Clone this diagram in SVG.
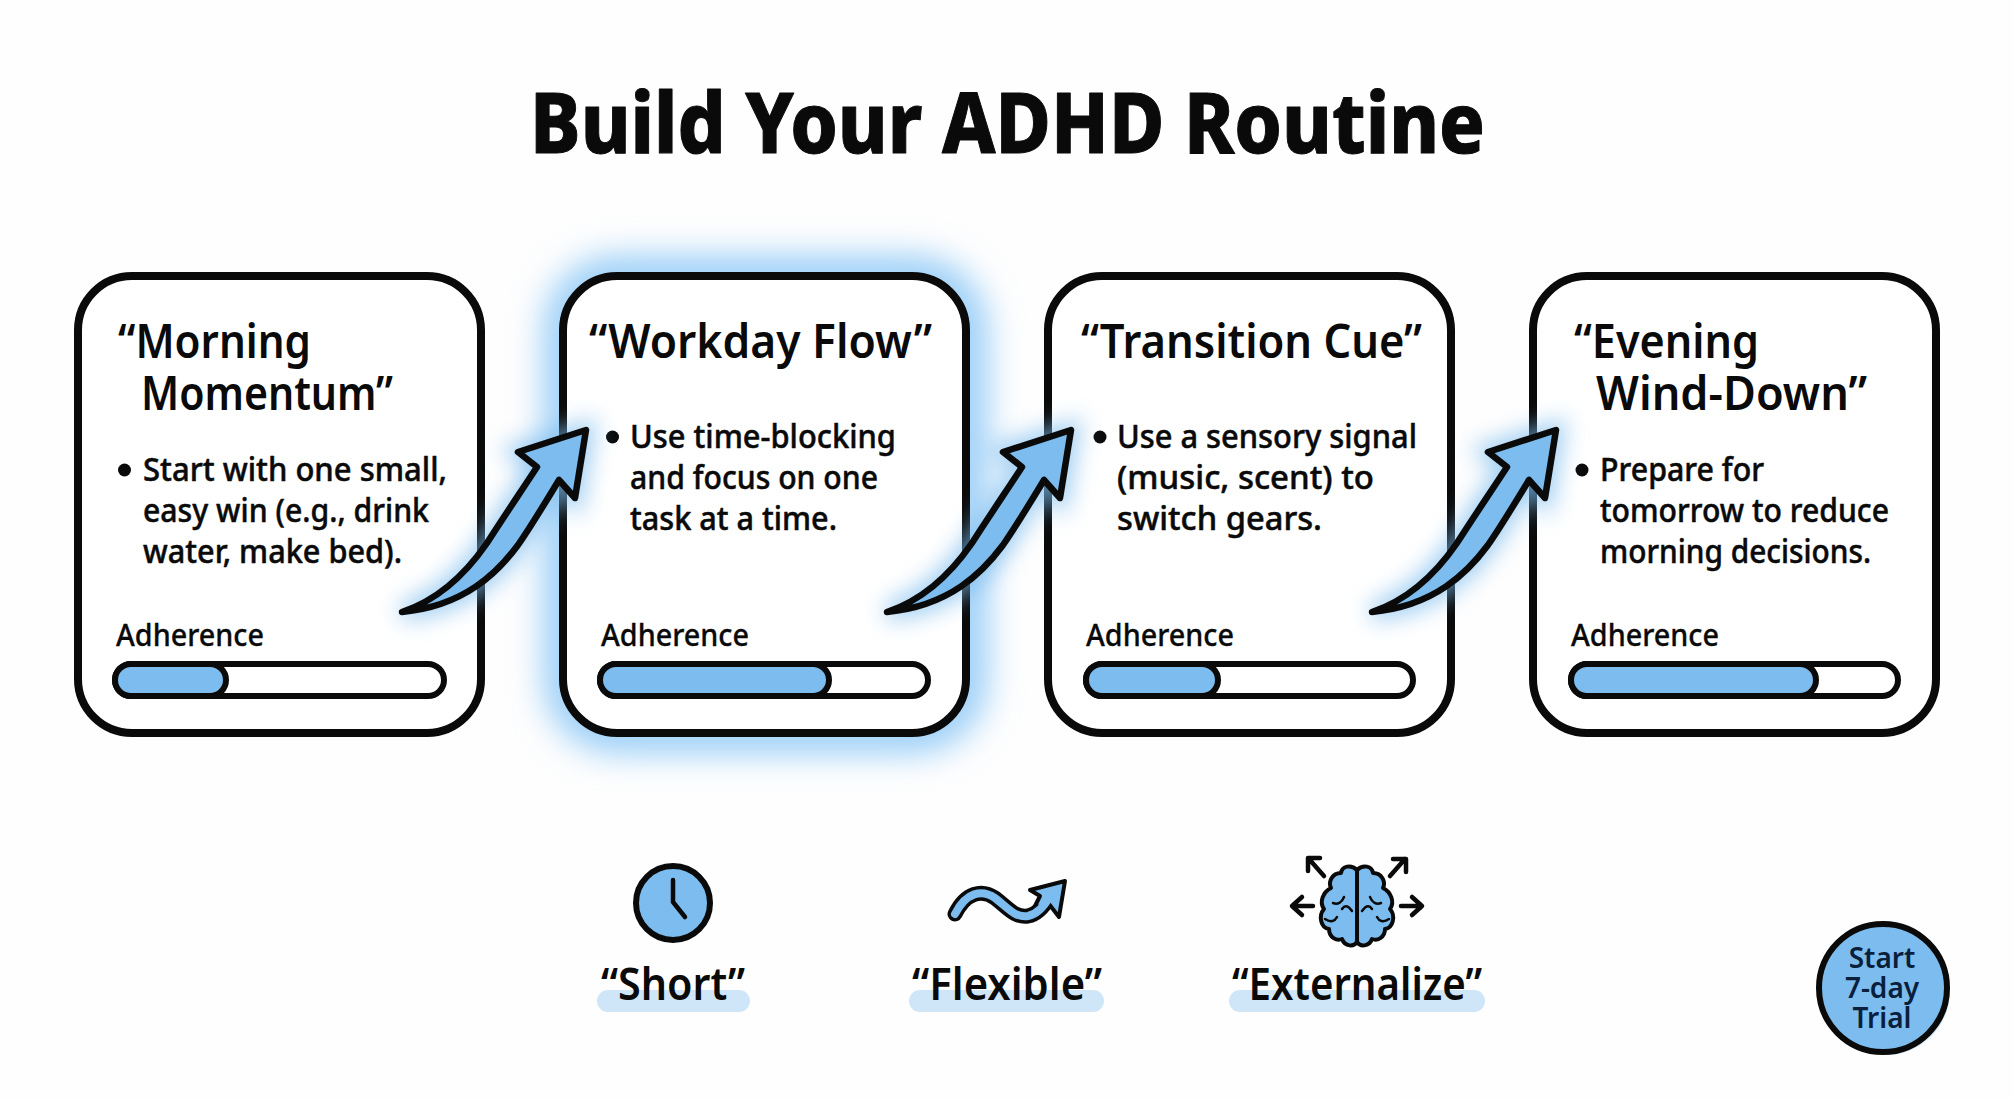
<svg xmlns="http://www.w3.org/2000/svg" xmlns:xlink="http://www.w3.org/1999/xlink" width="2013" height="1098" viewBox="0 0 2013 1098">
<style>
text{font-family:"Noto Sans","Liberation Sans",sans-serif;fill:#0a0a0a;stroke-linejoin:round}
.title{font-size:84px;font-weight:800;stroke:#0a0a0a;stroke-width:1}
.h{font-size:46px;font-weight:600}
.b{font-size:33px;font-weight:500;stroke:#0a0a0a;stroke-width:.5}
.a{font-size:31px;font-weight:500;stroke:#0a0a0a;stroke-width:.3}
.l{font-size:45px;font-weight:600}
.card{fill:#fff;stroke:#0a0a0a;stroke-width:8}
.bar{fill:#fff;stroke:#0a0a0a;stroke-width:6}
.fill{fill:#7cbcee;stroke:#0a0a0a;stroke-width:6}
.arrow{fill:#7cbcee;stroke:#0a0a0a;stroke-width:6.500;stroke-linejoin:round}
.aglow{fill:#7cbcee;stroke:#7cbcee;stroke-width:18;filter:url(#blur);opacity:.7}
.hl{fill:#cfe6f9}
.ic{fill:#7cbcee;stroke:#0a0a0a;stroke-width:4;stroke-linejoin:round;stroke-linecap:round}
.ln{fill:none;stroke:#0a0a0a;stroke-width:4.500;stroke-linecap:round;stroke-linejoin:round}
.fold{fill:none;stroke:#0a0a0a;stroke-width:2.500;stroke-linecap:round}
.btn{font-size:28px;font-weight:600;fill:#0a1f3c;text-anchor:middle}
</style>
<defs>
<filter id="blur" x="-30%" y="-30%" width="160%" height="160%"><feGaussianBlur stdDeviation="11"/></filter>
<filter id="halo" x="-20%" y="-20%" width="140%" height="140%"><feGaussianBlur stdDeviation="18"/></filter>
<path id="arr" d="M402 612C438 600 465 575 487 543C505 515 522 490 537 467L518 452L586 430L575 498L559 480C545 503 530 528 518 545C498 572 465 606 402 612Z"/>
<g id="half">
<path class="ic" d="M0-36C-6-42-15-40-16-33C-25-33-29-24-26-18C-34-14-38-4-33 3C-39 10-36 22-28 23C-28 32-20 35-15 33C-12 41-3 41 0 36Z"/>
<path class="fold" d="M-24-3C-19-1-15-4-13-9M-5 5C-10-2-13 0-15 3M-32 13C-26 17-22 15-20 11"/>
</g>
</defs>
<rect width="2013" height="1098" fill="#fefefe"/>
<text id="title" class="title" x="530" y="153" textLength="955" lengthAdjust="spacingAndGlyphs">Build Your ADHD Routine</text>

<rect x="564" y="276" width="403" height="457" rx="52" fill="none" stroke="#7cc0f5" stroke-width="32" filter="url(#halo)"/>

<g id="card-1">
<rect class="card" x="78" y="276" width="403" height="457" rx="54"/>
<text class="h" x="118" y="358" textLength="193" lengthAdjust="spacingAndGlyphs">“Morning</text>
<text class="h" x="141" y="410" textLength="252" lengthAdjust="spacingAndGlyphs">Momentum”</text>
<circle cx="124.500" cy="470" r="6.500" fill="#0a0a0a"/>
<text class="b" x="143" y="481" textLength="304" lengthAdjust="spacingAndGlyphs">Start with one small,</text>
<text class="b" x="143" y="522" textLength="286" lengthAdjust="spacingAndGlyphs">easy win (e.g., drink</text>
<text class="b" x="143" y="563" textLength="259" lengthAdjust="spacingAndGlyphs">water, make bed).</text>
<text class="a" x="116" y="646" textLength="148" lengthAdjust="spacingAndGlyphs">Adherence</text>
<rect class="bar" x="115" y="664" width="329" height="32" rx="16"/>
<rect class="fill" x="115" y="664" width="111" height="32" rx="16"/>
</g>

<g id="card-2">
<rect class="card" x="563" y="276" width="403" height="457" rx="54"/>
<text class="h" x="589" y="358" textLength="343" lengthAdjust="spacingAndGlyphs">“Workday Flow”</text>
<circle cx="612.500" cy="437" r="6.500" fill="#0a0a0a"/>
<text class="b" x="630" y="448" textLength="266" lengthAdjust="spacingAndGlyphs">Use time-blocking</text>
<text class="b" x="630" y="489" textLength="248" lengthAdjust="spacingAndGlyphs">and focus on one</text>
<text class="b" x="630" y="530" textLength="207" lengthAdjust="spacingAndGlyphs">task at a time.</text>
<text class="a" x="601" y="646" textLength="148" lengthAdjust="spacingAndGlyphs">Adherence</text>
<rect class="bar" x="600" y="664" width="328" height="32" rx="16"/>
<rect class="fill" x="600" y="664" width="229" height="32" rx="16"/>
</g>

<g id="card-3">
<rect class="card" x="1048" y="276" width="403" height="457" rx="54"/>
<text class="h" x="1081" y="358" textLength="341" lengthAdjust="spacingAndGlyphs">“Transition Cue”</text>
<circle cx="1100" cy="437" r="6.500" fill="#0a0a0a"/>
<text class="b" x="1117" y="448" textLength="300" lengthAdjust="spacingAndGlyphs">Use a sensory signal</text>
<text class="b" x="1117" y="489" textLength="257" lengthAdjust="spacingAndGlyphs">(music, scent) to</text>
<text class="b" x="1117" y="530" textLength="205" lengthAdjust="spacingAndGlyphs">switch gears.</text>
<text class="a" x="1086" y="646" textLength="148" lengthAdjust="spacingAndGlyphs">Adherence</text>
<rect class="bar" x="1086" y="664" width="327" height="32" rx="16"/>
<rect class="fill" x="1086" y="664" width="132" height="32" rx="16"/>
</g>

<g id="card-4">
<rect class="card" x="1533" y="276" width="403" height="457" rx="54"/>
<text class="h" x="1574" y="358" textLength="185" lengthAdjust="spacingAndGlyphs">“Evening</text>
<text class="h" x="1596" y="410" textLength="271" lengthAdjust="spacingAndGlyphs">Wind-Down”</text>
<circle cx="1582" cy="470" r="6.500" fill="#0a0a0a"/>
<text class="b" x="1600" y="481" textLength="164" lengthAdjust="spacingAndGlyphs">Prepare for</text>
<text class="b" x="1600" y="522" textLength="289" lengthAdjust="spacingAndGlyphs">tomorrow to reduce</text>
<text class="b" x="1600" y="563" textLength="271" lengthAdjust="spacingAndGlyphs">morning decisions.</text>
<text class="a" x="1571" y="646" textLength="148" lengthAdjust="spacingAndGlyphs">Adherence</text>
<rect class="bar" x="1571" y="664" width="327" height="32" rx="16"/>
<rect class="fill" x="1571" y="664" width="245" height="32" rx="16"/>
</g>

<g id="connectors">
<g><use xlink:href="#arr" href="#arr" class="aglow"/><use xlink:href="#arr" href="#arr" class="arrow"/></g>
<g transform="translate(485 0)"><use xlink:href="#arr" href="#arr" class="aglow"/><use xlink:href="#arr" href="#arr" class="arrow"/></g>
<g transform="translate(970 0)"><use xlink:href="#arr" href="#arr" class="aglow"/><use xlink:href="#arr" href="#arr" class="arrow"/></g>
</g>

<g id="short">
<circle cx="673" cy="903" r="37" fill="#7cbcee" stroke="#0a0a0a" stroke-width="6"/>
<path class="ln" d="M673 880V902L685 917"/>
<rect class="hl" x="597" y="990" width="153" height="22" rx="11"/>
<text class="l" x="601" y="1000" textLength="144" lengthAdjust="spacingAndGlyphs">“Short”</text>
</g>
<g id="flexible">
<path d="M955 914C966 892 982 889 995 898C1008 908 1015 918 1028 916C1038 914 1045 905 1050 896" fill="none" stroke="#0a0a0a" stroke-width="15" stroke-linecap="round"/>
<path class="ic" d="M1065 881L1030 890L1040 896L1034 908L1049 904L1059 917Z"/>
<path d="M955 914C966 892 982 889 995 898C1008 908 1015 918 1028 916C1038 914 1045 905 1050 896" fill="none" stroke="#7cbcee" stroke-width="8" stroke-linecap="round"/>
<rect class="hl" x="909" y="990" width="195" height="22" rx="11"/>
<text class="l" x="912" y="1000" textLength="190" lengthAdjust="spacingAndGlyphs">“Flexible”</text>
</g>
<g id="externalize">
<g transform="translate(1357 906)"><use xlink:href="#half" href="#half"/><use xlink:href="#half" href="#half" transform="scale(-1 1)"/></g>
<path class="ln" d="M1324 876L1309 859M1308 871V858H1320M1390 876L1405 859M1393 859H1406V872M1313 906H1293M1302 897L1292 906L1302 915M1401 906H1421M1412 897L1422 906L1412 915"/>
<rect class="hl" x="1229" y="990" width="256" height="22" rx="11"/>
<text class="l" x="1232" y="1000" textLength="250" lengthAdjust="spacingAndGlyphs">“Externalize”</text>
</g>
<g id="trial">
<circle cx="1886" cy="991" r="64" fill="#cfe6f9"/>
<circle cx="1883" cy="988" r="64" fill="#7cbcee" stroke="#0a0a0a" stroke-width="6"/>
<text class="btn" x="1882" y="968">Start</text>
<text class="btn" x="1882" y="998">7-day</text>
<text class="btn" x="1882" y="1028">Trial</text>
</g>
</svg>
